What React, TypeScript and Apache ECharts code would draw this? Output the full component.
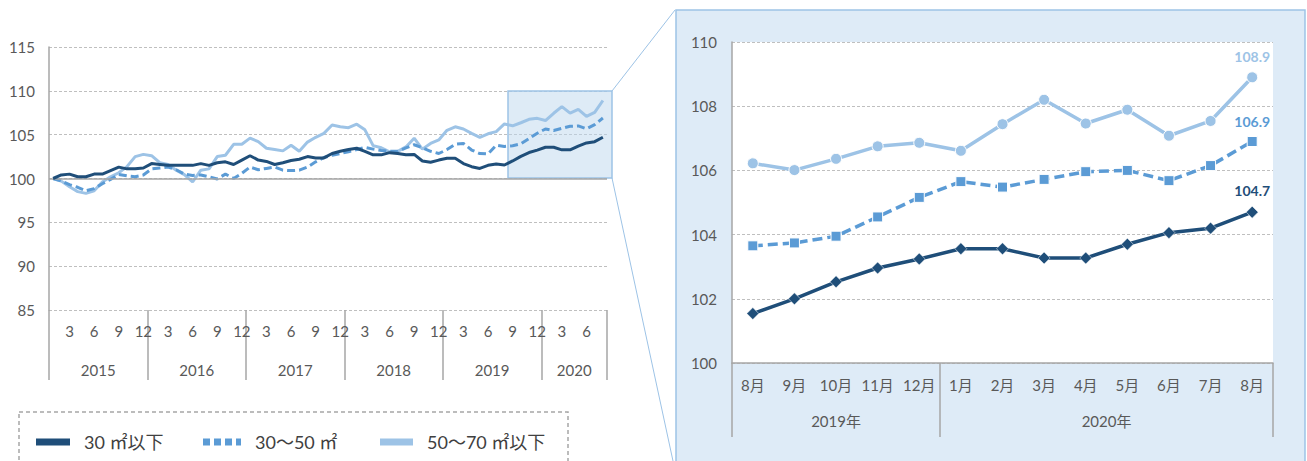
import React, { useEffect, useRef } from 'react';
import * as echarts from 'echarts';

// ---- data ----
const years = ['2015', '2016', '2017', '2018', '2019', '2020'];
const monthsInYear = [12, 12, 12, 12, 12, 8];

const seriesNames = ['30 ㎡以下', '30～50 ㎡', '50～70 ㎡以下'];

const small30 = [
  100.0, 100.4, 100.5, 100.2, 100.2, 100.5, 100.5, 100.9, 101.3, 101.1, 101.1, 101.2,
  101.7, 101.6, 101.5, 101.5, 101.5, 101.5, 101.7, 101.5, 101.8, 101.9, 101.6, 102.1,
  102.6, 102.1, 101.95, 101.6, 101.8, 102.05, 102.2, 102.5, 102.35, 102.35, 102.85, 103.1,
  103.3, 103.45, 103.1, 102.7, 102.7, 102.95, 102.85, 102.7, 102.75, 102.0, 101.85, 102.1,
  102.3, 102.3, 101.7, 101.35, 101.15, 101.5, 101.65, 101.54, 102.0, 102.53, 102.96, 103.24,
  103.56, 103.56, 103.27, 103.27, 103.7, 104.06, 104.2, 104.7,
];

const mid3050 = [
  100.0, 99.7, 99.3, 99.0, 98.6, 98.85, 99.4, 99.9, 100.45, 100.3, 100.2, 100.4,
  101.1, 101.2, 101.3, 101.0, 100.5, 100.35, 100.4, 100.2, 99.95, 100.5, 100.0, 100.6,
  101.3, 101.0, 101.15, 101.3, 100.95, 100.9, 100.95, 101.3, 101.9, 102.4, 102.65, 102.85,
  103.05, 103.3, 103.55, 103.35, 103.2, 103.1, 103.1, 103.5, 103.85, 103.5, 103.1, 102.85,
  103.3, 103.9, 104.0, 103.25, 102.85, 102.8, 103.8, 103.65, 103.74, 103.95, 104.55, 105.16,
  105.65, 105.48, 105.72, 105.96, 106.0, 105.68, 106.15, 106.9,
];

const large5070 = [
  100.0, 99.7, 99.05, 98.5, 98.3, 98.6, 99.6, 100.2, 100.65, 101.35, 102.5, 102.75,
  102.6, 101.8, 101.6, 100.95, 100.45, 99.6, 100.95, 101.1, 102.5, 102.65, 103.9, 103.9,
  104.6, 104.2, 103.45, 103.3, 103.15, 103.8, 103.1, 104.15, 104.7, 105.15, 106.1, 105.9,
  105.8, 106.2, 105.55, 103.75, 103.5, 103.05, 103.1, 103.6, 104.6, 103.35, 104.0, 104.4,
  105.5, 105.9, 105.65, 105.15, 104.7, 105.1, 105.35, 106.22, 106.01, 106.36, 106.75, 106.86,
  106.61, 107.44, 108.2, 107.46, 107.89, 107.08, 107.54, 108.9,
];

const zoomMonths = ['8月', '9月', '10月', '11月', '12月', '1月', '2月', '3月', '4月', '5月', '6月', '7月', '8月'];
const zoomYears = ['2019年', '2020年'];
const zoomYearSpans = [5, 8];

const leftTicks = [85, 90, 95, 100, 105, 110, 115];
const rightTicks = [100, 102, 104, 106, 108, 110];

// ---- styles ----
const colors = ['#1f4e79', '#5b9bd5', '#9dc3e6'];
const FONT = "Lato, 'Noto Sans CJK JP', sans-serif";
const TEXT = '#595959';
const AXIS = '#a6a6a6';
const GRIDLINE = '#bfbfbf';

export default function App() {
  const ref = useRef<HTMLDivElement>(null);

  useEffect(() => {
    const chart = echarts.init(ref.current!, null, { renderer: 'svg' });

    // left categories
    const monthCats: string[] = [];
    const leftYearLabel: string[] = [];
    const leftYearStart = new Set<number>();
    years.forEach((y, yi) => {
      const n = monthsInYear[yi];
      leftYearStart.add(monthCats.length);
      for (let m = 1; m <= n; m++) {
        monthCats.push(`${y}/${m}`);
        leftYearLabel.push(m === n / 2 ? y : '');
      }
    });

    // right categories
    const zoomCats = zoomMonths.map((m, i) => `${i}:${m}`);
    const rightYearLabel: string[] = zoomMonths.map(() => '');
    const rightYearShift: boolean[] = zoomMonths.map(() => false);
    const rightYearStart = new Set<number>();
    let s = 0;
    zoomYears.forEach((y, i) => {
      const n = zoomYearSpans[i];
      rightYearStart.add(s);
      if (n % 2 === 1) {
        rightYearLabel[s + (n - 1) / 2] = y;
      } else {
        rightYearLabel[s + n / 2 - 1] = y;
        rightYearShift[s + n / 2 - 1] = true;
      }
      s += n;
    });

    const leftGrid = { left: 49, top: 47, width: 558, height: 263 };
    const rightGrid = { left: 732, top: 42, width: 541, height: 321 };
    const leftBand = leftGrid.width / monthCats.length;
    const rightBand = rightGrid.width / zoomCats.length;

    const labelBase = { color: TEXT, fontSize: 15, fontFamily: FONT };

    const full = [small30, mid3050, large5070];
    const nZoom = zoomMonths.length;
    const symbols = ['diamond', 'rect', 'circle'];
    const symbolSizes = [12, 10, 11];

    const leftSeries = full.map((d, i) => ({
      name: seriesNames[i],
      type: 'line',
      xAxisIndex: 0,
      yAxisIndex: 0,
      data: d,
      symbol: 'none',
      lineStyle: { color: colors[i], width: 3, type: i === 1 ? [8, 4] : 'solid' },
      itemStyle: { color: colors[i] },
      z: 3 + (2 - i),
      ...(i === 0
        ? {
            markLine: {
              silent: true,
              symbol: ['none', 'none'],
              label: { show: false },
              lineStyle: { color: AXIS, type: 'solid', width: 1.5 },
              data: [{ yAxis: 100 }],
            },
          }
        : {}),
    }));

    const rightSeries = full.map((d, i) => ({
      name: seriesNames[i],
      type: 'line',
      xAxisIndex: 2,
      yAxisIndex: 1,
      data: d.slice(-nZoom),
      symbol: symbols[i],
      symbolSize: symbolSizes[i],
      lineStyle: { color: colors[i], width: 3.5, type: i === 1 ? [10, 5] : 'solid' },
      itemStyle: { color: colors[i], borderColor: '#ffffff', borderWidth: i === 0 ? 0.5 : 1 },
      label: {
        show: true,
        position: 'top',
        distance: 8,
        color: colors[i],
        fontSize: 14,
        fontWeight: 'bold',
        fontFamily: FONT,
        formatter: (p: any) => (p.dataIndex === nZoom - 1 ? Number(p.value).toFixed(1) : ''),
      },
      z: 3 + (2 - i),
    }));

    const legendLefts = [36, 203, 380];
    const legendWidths = [34, 38, 33];
    const legendIcons = [
      'rect',
      'path://M0 0H7V7H0Z M11 0H18V7H11Z M22 0H29V7H22Z M33 0H38V7H33Z',
      'rect',
    ];

    chart.setOption({
      animation: false,
      grid: [
        { ...leftGrid, containLabel: false },
        { ...rightGrid, containLabel: false, show: true, backgroundColor: '#ffffff', borderWidth: 0 },
      ],
      legend: seriesNames.map((name, i) => ({
        data: [
          {
            name,
            icon: legendIcons[i],
            itemStyle: { color: colors[i], borderWidth: 0 },
          },
        ],
        left: legendLefts[i],
        top: 433,
        padding: 0,
        itemWidth: legendWidths[i],
        itemHeight: 7,
        symbolKeepAspect: false,
        selectedMode: false,
        textStyle: { fontSize: 18, color: '#404040', fontFamily: FONT, padding: [0, 0, 0, 9] },
      })),
      xAxis: [
        {
          gridIndex: 0,
          type: 'category',
          data: monthCats,
          boundaryGap: true,
          axisLine: { show: false },
          axisTick: { show: false },
          splitLine: { show: false },
          axisLabel: {
            ...labelBase,
            margin: 13,
            interval: (_i: number, v: string) => Number(v.split('/')[1]) % 3 === 0,
            formatter: (v: string) => v.split('/')[1],
          },
        },
        {
          gridIndex: 0,
          type: 'category',
          data: monthCats,
          boundaryGap: true,
          position: 'bottom',
          axisLine: { show: false },
          axisTick: {
            show: true,
            interval: (i: number) => leftYearStart.has(i),
            length: 70,
            lineStyle: { color: AXIS, width: 1.5 },
          },
          splitLine: { show: false },
          axisLabel: {
            ...labelBase,
            margin: 52,
            interval: 0,
            formatter: (_v: string, i: number) => (leftYearLabel[i] ? `{s|${leftYearLabel[i]}}` : ''),
            rich: { s: { ...labelBase, padding: [0, 0, 0, leftBand] } },
          },
        },
        {
          gridIndex: 1,
          type: 'category',
          data: zoomCats,
          boundaryGap: true,
          axisLine: { show: true, lineStyle: { color: AXIS, width: 1.5 } },
          axisTick: { show: false },
          splitLine: { show: false },
          axisLabel: {
            ...labelBase,
            margin: 14,
            interval: 0,
            formatter: (_v: string, i: number) => zoomMonths[i],
          },
        },
        {
          gridIndex: 1,
          type: 'category',
          data: zoomCats,
          boundaryGap: true,
          position: 'bottom',
          axisLine: { show: false },
          axisTick: {
            show: true,
            interval: (i: number) => rightYearStart.has(i),
            length: 74,
            lineStyle: { color: AXIS, width: 1.5 },
          },
          splitLine: { show: false },
          axisLabel: {
            ...labelBase,
            margin: 50,
            interval: 0,
            formatter: (_v: string, i: number) =>
              rightYearLabel[i] ? (rightYearShift[i] ? `{s|${rightYearLabel[i]}}` : `{n|${rightYearLabel[i]}}`) : '',
            rich: {
              s: { ...labelBase, padding: [0, 0, 0, rightBand] },
              n: { ...labelBase },
            },
          },
        },
      ],
      yAxis: [
        {
          gridIndex: 0,
          type: 'value',
          min: leftTicks[0],
          max: leftTicks[leftTicks.length - 1],
          interval: leftTicks[1] - leftTicks[0],
          axisLine: { show: true, lineStyle: { color: AXIS, width: 1.5 } },
          axisTick: { show: false },
          axisLabel: { ...labelBase, margin: 14 },
          splitLine: { show: true, lineStyle: { color: GRIDLINE, type: [3, 2], width: 1 } },
        },
        {
          gridIndex: 1,
          type: 'value',
          min: rightTicks[0],
          max: rightTicks[rightTicks.length - 1],
          interval: rightTicks[1] - rightTicks[0],
          axisLine: { show: true, lineStyle: { color: AXIS, width: 1.5 } },
          axisTick: { show: false },
          axisLabel: { ...labelBase, margin: 15 },
          splitLine: { show: true, lineStyle: { color: GRIDLINE, type: [3, 2], width: 1 } },
        },
      ],
      graphic: [
        {
          type: 'rect',
          z: -10,
          shape: { x: 676, y: 10, width: 629, height: 480 },
          style: { fill: '#deebf7', stroke: '#9dc3e6', lineWidth: 1.5 },
        },
        {
          type: 'rect',
          z: 1,
          shape: { x: 508, y: 91, width: 104, height: 87 },
          style: { fill: 'rgba(189,215,238,0.5)', stroke: '#9dc3e6', lineWidth: 1.5 },
        },
        {
          type: 'line',
          z: 1,
          shape: { x1: 612, y1: 91, x2: 675, y2: 10 },
          style: { stroke: '#9dc3e6', lineWidth: 1 },
        },
        {
          type: 'line',
          z: 1,
          shape: { x1: 612, y1: 178, x2: 673, y2: 461 },
          style: { stroke: '#9dc3e6', lineWidth: 1 },
        },
        {
          type: 'rect',
          z: -10,
          shape: { x: 19, y: 412, width: 549, height: 70 },
          style: { fill: 'none', stroke: '#a6a6a6', lineWidth: 1.5, lineDash: [4, 3] },
        },
      ],
      series: [...leftSeries, ...rightSeries],
    });

    return () => chart.dispose();
  }, []);

  return (
    <div
      ref={ref}
      style={{ position: 'fixed', left: 0, top: 0, width: 1307, height: 461, background: '#ffffff' }}
    />
  );
}
